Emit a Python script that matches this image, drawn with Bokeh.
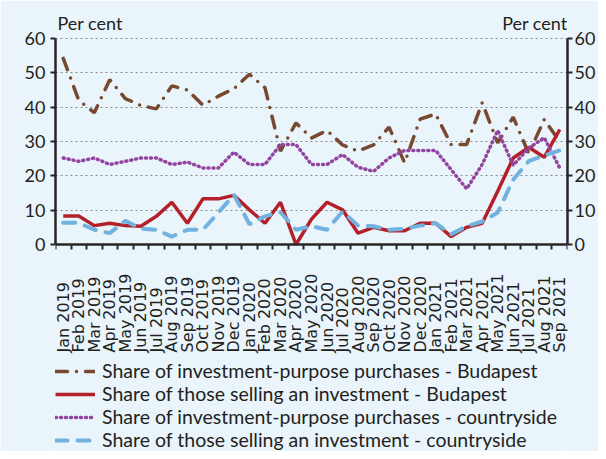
import math
from bokeh.plotting import figure
from bokeh.models import (Range1d, LinearAxis, FixedTicker, Label, LabelSet,
                          ColumnDataSource, Legend, LegendItem)
from bokeh.core.properties import value
from bokeh.embed import file_html
from bokeh.resources import INLINE

months = ["Jan 2019", "Feb 2019", "Mar 2019", "Apr 2019", "May 2019", "Jun 2019",
          "Jul 2019", "Aug 2019", "Sep 2019", "Oct 2019", "Nov 2019", "Dec 2019",
          "Jan 2020", "Feb 2020", "Mar 2020", "Apr 2020", "May 2020", "Jun 2020",
          "Jul 2020", "Aug 2020", "Sep 2020", "Oct 2020", "Nov 2020", "Dec 2020",
          "Jan 2021", "Feb 2021", "Mar 2021", "Apr 2021", "May 2021", "Jun 2021",
          "Jul 2021", "Aug 2021", "Sep 2021"]

purch_budapest = [54.2, 42.0, 38.4, 48.0, 42.5, 40.5, 39.5, 46.2, 45.0, 40.6, 43.2, 45.4,
                  49.6, 45.7, 27.2, 35.4, 31.0, 33.2, 29.0, 27.2, 29.0, 34.2, 23.8, 36.5,
                  38.0, 29.1, 29.1, 41.3, 29.6, 37.1, 26.5, 36.4, 30.0]
sell_budapest = [8.3, 8.3, 5.5, 6.2, 5.5, 5.3, 8.2, 12.3, 6.2, 13.3, 13.3, 14.3,
                 10.1, 6.2, 12.3, 0.0, 7.4, 12.3, 10.1, 3.3, 5.0, 4.0, 4.0, 6.2,
                 6.2, 2.3, 5.0, 6.2, 15.5, 25.2, 28.3, 25.4, 33.5]
purch_country = [25.2, 24.2, 25.2, 23.3, 24.2, 25.2, 25.2, 23.3, 24.0, 22.3, 22.3, 26.9,
                 23.3, 23.3, 29.1, 29.1, 23.3, 23.3, 26.2, 22.5, 21.3, 25.2, 27.4, 27.4,
                 27.4, 21.8, 16.2, 23.3, 33.2, 23.1, 28.1, 31.1, 22.3]
sell_country = [6.3, 6.3, 4.3, 3.3, 6.9, 4.6, 4.3, 2.3, 4.3, 4.3, 9.3, 14.5,
                5.9, 8.2, 9.4, 4.3, 5.3, 4.3, 9.6, 5.5, 5.3, 4.3, 4.6, 5.5,
                6.2, 3.0, 5.3, 6.7, 9.3, 18.9, 24.3, 25.9, 27.4]

series_names = ["Share of investment-purpose purchases - Budapest",
                "Share of those selling an investment - Budapest",
                "Share of investment-purpose purchases - countryside",
                "Share of those selling an investment - countryside"]
y_ticks = [0, 10, 20, 30, 40, 50, 60]
unit_label = "Per cent"

BG = "#E9F4FB"
TXT = "#231F20"
AX = "#262626"
FONT = "Lato"

n = len(months)
idx = list(range(n))

# layout (pixels): frame covers the chart, month labels and legend;
# the value axis 0..60 spans 206 px with 0 at 234 px below the frame top
W, H = 598, 451
TOP, BOTTOM = 10, 0
PPU = 206 / 60
y_hi = 234 / PPU
y_lo = -(H - TOP - BOTTOM - 234) / PPU

p = figure(width=W, height=H, output_backend="svg", toolbar_location=None,
           x_range=Range1d(-0.5, n - 0.5), y_range=Range1d(y_lo, y_hi),
           min_border_left=55, min_border_right=28, min_border_top=TOP,
           min_border_bottom=BOTTOM)
p.background_fill_color = BG
p.border_fill_color = BG
p.outline_line_color = None

p.xgrid.visible = False
p.ygrid.ticker = FixedTicker(ticks=y_ticks[1:])
p.ygrid.grid_line_color = "#8A8A8A"
p.ygrid.grid_line_dash = "2 3"
p.ygrid.grid_line_width = 1

# bottom axis drawn at value 0, with tick marks between months
xa = p.xaxis[0]
xa.fixed_location = 0
xa.ticker = FixedTicker(ticks=[], minor_ticks=[i - 0.5 for i in range(n + 1)])
xa.major_label_standoff = 0
xa.major_tick_out = 0
xa.major_tick_in = 0
xa.minor_tick_out = 5
xa.minor_tick_in = 0
xa.minor_tick_line_color = AX
xa.minor_tick_line_width = 2
xa.axis_line_width = 2.5
xa.axis_line_color = AX

def style_y(ax):
    ax.ticker = FixedTicker(ticks=y_ticks)
    ax.bounds = (y_ticks[0], y_ticks[-1])
    ax.major_tick_out = 5
    ax.major_tick_in = 0
    ax.minor_tick_line_color = None
    ax.axis_line_width = 2.5
    ax.axis_line_color = AX
    ax.major_tick_line_color = AX
    ax.major_tick_line_width = 2
    ax.major_label_text_font = FONT
    ax.major_label_text_font_size = "18px"
    ax.major_label_text_color = TXT
    ax.major_label_standoff = 5

style_y(p.yaxis[0])
ra = LinearAxis()
style_y(ra)
ra.major_label_standoff = 2
p.add_layout(ra, "right")

r1 = p.line(idx, purch_budapest, line_color="#774A30", line_width=3.5,
            line_dash="12 9 0 9", line_cap="round")
r2 = p.line(idx, sell_budapest, line_color="#B3202A", line_width=3.5)
r3 = p.line(idx, purch_country, line_color="#93449E", line_width=3.5,
            line_dash="1 4", line_cap="round")
r4 = p.line(idx, sell_country, line_color="#72B2DE", line_width=4,
            line_dash="12 10", line_cap="round")

# month labels: vertical, bottom-aligned
src = ColumnDataSource(dict(x=idx, y=[-108 / PPU] * n, text=months))
p.add_layout(LabelSet(x="x", y="y", text="text", source=src, angle=math.pi / 2,
                      text_align="left", text_baseline="middle",
                      text_font=value("DejaVu Sans"), text_font_size=value("16px"),
                      text_color=TXT))

p.add_layout(Label(x=-0.5, y=64.5, x_offset=2, text=unit_label, text_font=FONT,
                   text_font_size="18px", text_color=TXT,
                   text_align="left", text_baseline="middle"))
p.add_layout(Label(x=n - 0.5, y=64.5, x_offset=0, text=unit_label, text_font=FONT,
                   text_font_size="18px", text_color=TXT,
                   text_align="right", text_baseline="middle"))

legend = Legend(items=[LegendItem(label=series_names[0], renderers=[r1]),
                       LegendItem(label=series_names[1], renderers=[r2]),
                       LegendItem(label=series_names[2], renderers=[r3]),
                       LegendItem(label=series_names[3], renderers=[r4])],
                location=(0, 0), orientation="vertical",
                glyph_width=40, glyph_height=22, label_height=22, spacing=0,
                label_standoff=7, padding=0, margin=0,
                background_fill_alpha=0, border_line_color=None,
                label_text_font=FONT, label_text_font_size="19.5px",
                label_text_color=TXT)
p.add_layout(legend, "center")

open("out.html", "w").write(file_html(p, INLINE))
